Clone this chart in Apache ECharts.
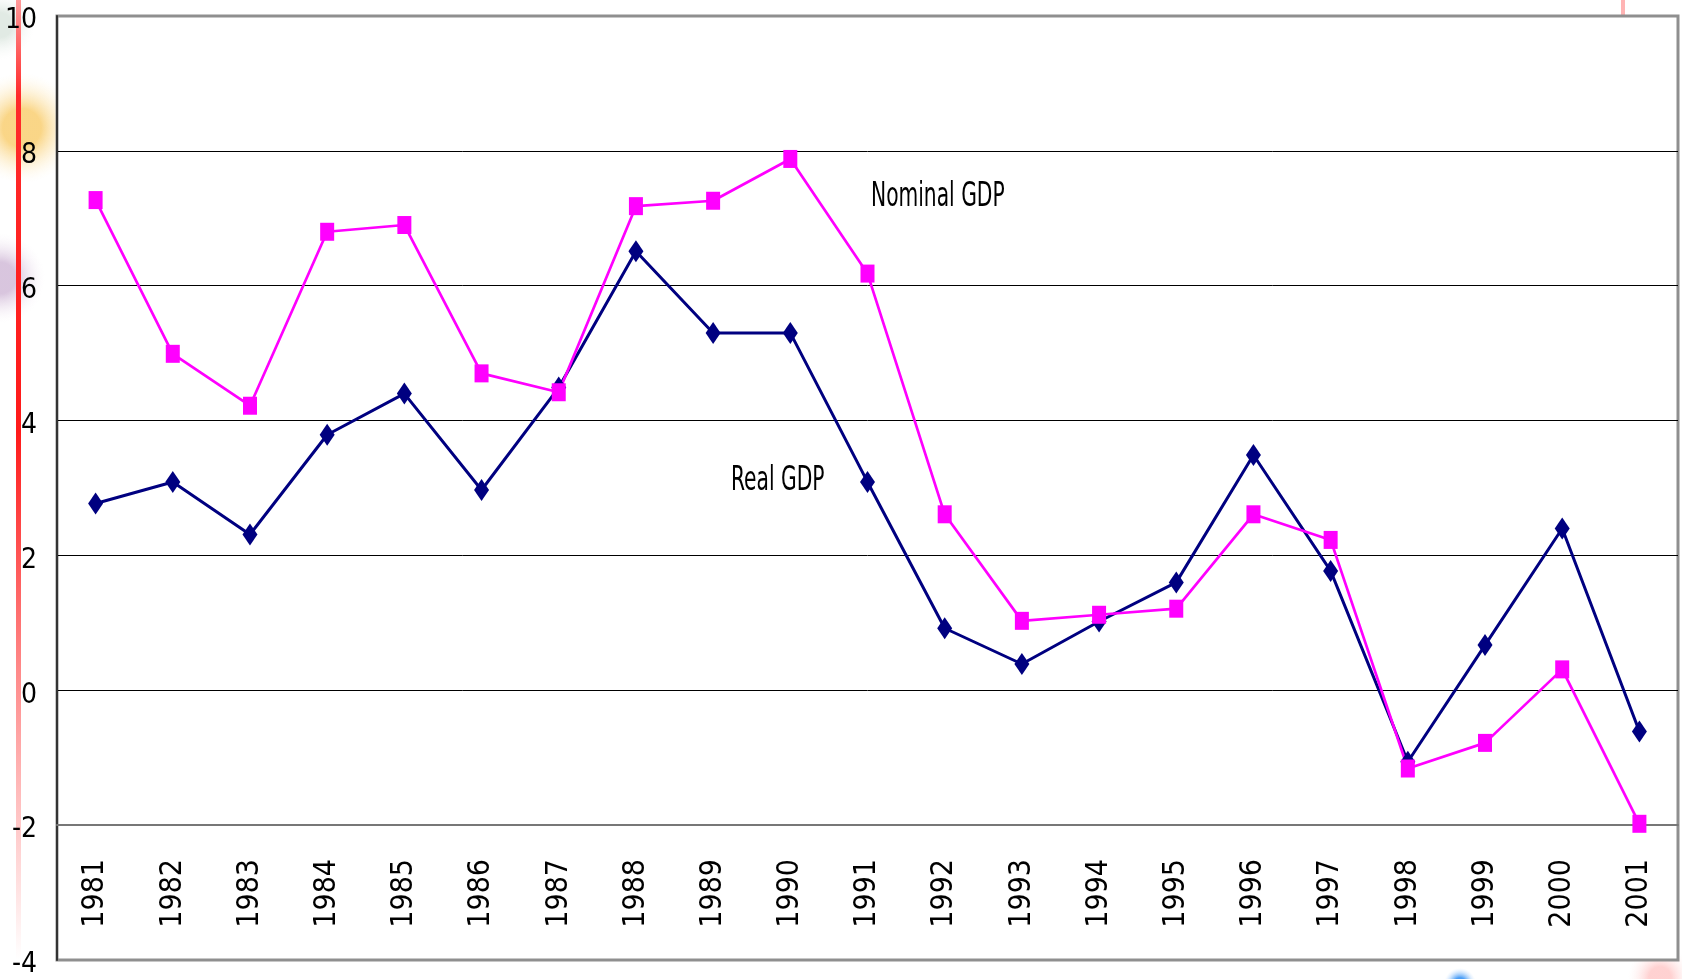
<!DOCTYPE html>
<html>
<head>
<meta charset="utf-8">
<script src="https://cdn.jsdelivr.net/npm/echarts@6.0.0/dist/echarts.min.js"></script>
<style>
html,body{margin:0;padding:0;background:#fff;}
#container{width:1682px;height:979px;}
</style>
</head>
<body>
<div id="container"></div>
<script>
// data (annual growth, %)
var years = ['1981','1982','1983','1984','1985','1986','1987','1988','1989','1990','1991',
             '1992','1993','1994','1995','1996','1997','1998','1999','2000','2001'];
var nominalGdp = [7.27, 4.99, 4.22, 6.80, 6.90, 4.70, 4.42, 7.18, 7.26, 7.88, 6.18,
                  2.61, 1.03, 1.12, 1.21, 2.61, 2.23, -1.16, -0.78, 0.31, -1.98];
var realGdp = [2.77, 3.09, 2.31, 3.79, 4.40, 2.97, 4.49, 6.51, 5.30, 5.30, 3.09,
               0.92, 0.39, 1.02, 1.60, 3.49, 1.77, -1.06, 0.67, 2.40, -0.61];
var yMin = -4, yMax = 10, yStep = 2;
var seriesNames = ['Real GDP', 'Nominal GDP'];

var narrow = "'Liberation Sans Narrow', 'DejaVu Sans Condensed', sans-serif";

var chart = echarts.init(document.getElementById('container'));

function glow(cx, cy, r, color, fade) {
    return {
        type: 'circle', z: -5, silent: true,
        shape: {cx: cx, cy: cy, r: r},
        style: {fill: new echarts.graphic.RadialGradient(0.5, 0.5, 0.5, [
            {offset: 0, color: color}, {offset: 0.35, color: color}, {offset: 1, color: fade}])}
    };
}

var option = {
    animation: false,
    grid: {
        left: 57, right: 4, top: 16, bottom: 16,
        show: true, backgroundColor: '#fff',
        borderColor: '#8f8f8f', borderWidth: 3
    },
    xAxis: {
        type: 'category',
        data: years,
        boundaryGap: true,
        position: 'bottom',
        offset: -135,          // axis sits on the -2 line
        axisLine: {onZero: false, lineStyle: {color: '#777', width: 2}},
        axisTick: {inside: true, length: 10, lineStyle: {color: '#111', width: 1}},
        axisLabel: {rotate: 90, margin: 34, fontSize: 30, color: '#000', fontFamily: narrow},
        splitLine: {show: false}
    },
    yAxis: {
        type: 'value',
        min: yMin, max: yMax, interval: yStep,
        axisLine: {show: true, lineStyle: {color: '#333', width: 2}},
        axisTick: {show: false},
        axisLabel: {
            margin: 20,
            formatter: '{v|{value}}',
            rich: {v: {fontSize: 28, color: '#000', fontFamily: narrow, padding: [10, 0, 0, 0]}}
        },
        splitLine: {show: true, showMinLine: false, showMaxLine: false,
                    lineStyle: {color: '#000', width: 1}}
    },
    series: [
        {
            name: seriesNames[0], type: 'line', data: realGdp,
            symbol: 'diamond', symbolSize: [15, 22],
            itemStyle: {color: '#000080'},
            lineStyle: {color: '#000080', width: 3}
        },
        {
            name: seriesNames[1], type: 'line', data: nominalGdp,
            symbol: 'rect', symbolSize: [14, 18],
            itemStyle: {color: '#ff00ff'},
            lineStyle: {color: '#ff00ff', width: 2.7}
        }
    ],
    graphic: [
        // slide decorations around the chart
        {
            type: 'rect', z: -4, silent: true,
            shape: {x: 16, y: 0, width: 5, height: 960},
            style: {fill: new echarts.graphic.LinearGradient(0, 0, 0, 1, [
                {offset: 0, color: '#ff9a9a'}, {offset: 0.1, color: '#ff2a2a'},
                {offset: 0.45, color: '#ff1a1a'}, {offset: 0.7, color: '#ff8a8a'},
                {offset: 1, color: '#ffffff'}])}
        },
        glow(22, 128, 55, 'rgba(248,200,95,0.75)', 'rgba(255,245,220,0)'),
        glow(0, 278, 45, 'rgba(185,150,195,0.55)', 'rgba(245,235,245,0)'),
        glow(0, 25, 35, 'rgba(205,220,210,0.6)', 'rgba(245,248,245,0)'),
        {
            type: 'ellipse', z: -5, silent: true,
            shape: {cx: 1460, cy: 984, rx: 80, ry: 16},
            style: {fill: new echarts.graphic.RadialGradient(0.5, 0.5, 0.5, [
                {offset: 0, color: 'rgba(30,130,240,1)'}, {offset: 0.4, color: 'rgba(60,150,245,0.9)'},
                {offset: 1, color: 'rgba(200,225,255,0)'}])}
        },
        glow(1660, 978, 32, 'rgba(255,190,190,0.7)', 'rgba(255,240,240,0)'),
        {
            type: 'rect', z: -4, silent: true,
            shape: {x: 1621, y: 0, width: 4, height: 15},
            style: {fill: '#ffb4b4'}
        },
        // series captions
        {
            type: 'text', x: 871, y: 197, scaleY: 1.5, silent: true,
            style: {text: 'Nominal GDP', fill: '#000', fontSize: 22.5, fontFamily: narrow,
                     align: 'left', verticalAlign: 'middle'}
        },
        {
            type: 'text', x: 731, y: 481, scaleY: 1.5, silent: true,
            style: {text: 'Real GDP', fill: '#000', fontSize: 22.5, fontFamily: narrow,
                     align: 'left', verticalAlign: 'middle'}
        }
    ]
};

chart.setOption(option);
</script>
</body>
</html>
